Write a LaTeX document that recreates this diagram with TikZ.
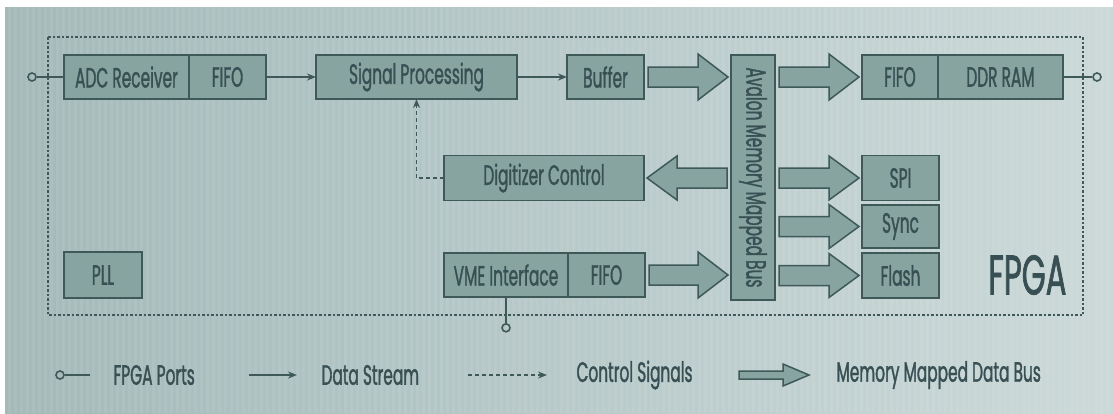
\documentclass[tikz,border=0pt]{standalone}
\usepackage{fontspec}
\setmainfont{Poppins}[FakeStretch=0.55,FakeBold=1.2]
\usepackage{graphicx}
\usetikzlibrary{calc,positioning,arrows.meta}
\definecolor{bgleft}{RGB}{163,186,185}
\definecolor{bgright}{RGB}{204,217,217}
\definecolor{boxfill}{RGB}{136,164,160}
\definecolor{edge}{RGB}{62,89,88}
\definecolor{ink}{RGB}{56,80,84}
\tikzset{
  blk/.style={draw=edge,fill=boxfill,line width=1.8pt,outer sep=0pt,inner sep=0pt,
    minimum height=44pt,text=ink,font=\fontsize{28}{28}\selectfont},
  port/.style={circle,draw=edge,line width=1.6pt,inner sep=0pt,minimum size=8pt},
  data/.style={draw=edge,line width=1.5pt,-{Stealth[length=9pt,width=7pt]}},
  ctrl/.style={data,dash pattern=on 4pt off 3pt},
  border/.style={draw=edge,line width=1.8pt,dash pattern=on 2.5pt off 2pt},
  lgd/.style={anchor=west,text=ink,font=\fontsize{28}{28}\selectfont},
  fatarr/.style n args={3}{draw=edge,fill=boxfill,line width=1.5pt,
    to path={let \p1=(\tikztostart), \p2=(\tikztotarget), \n1={sign(\x2-\x1)} in
      (\x1+\n1*4pt,\y1+#1pt) -- (\x2-\n1*#3pt-\n1*3pt,\y1+#1pt)
      -- (\x2-\n1*#3pt-\n1*3pt,\y1+#2pt) -- (\x2-\n1*3pt,\y1)
      -- (\x2-\n1*#3pt-\n1*3pt,\y1-#2pt) -- (\x2-\n1*#3pt-\n1*3pt,\y1-#1pt)
      -- (\x1+\n1*4pt,\y1-#1pt) -- cycle}}
}

\begin{document}
\begin{tikzpicture}[x=1pt,y=-1pt]
    \useasboundingbox (0,0) rectangle (1113,413);
    \fill[white] (0,0) rectangle (1113,413);
    \shade[left color=bgleft,right color=bgright] (5,7) rectangle (1113,413);
    \foreach \x in {8,14,...,1110}
      \fill[white,opacity=0.07] (\x,7) rectangle (\x+3,413);

    \draw[border] (48,37) rectangle (1083,315);

    % top row
    \node [port] (pin1) at (32,77) {};
    \node [blk,minimum width=125pt,anchor=west] (adc) at (64,77) {ADC Receiver};
    \node [blk,minimum width=77pt,right=0pt of adc] (fifoa) {FIFO};
    \node [blk,minimum width=201pt,anchor=west] (sig) at (316,77) {Signal Processing};
    \node [blk,minimum width=77pt,anchor=west] (buf) at (567,77) {Buffer};
    \node [blk,minimum width=44pt,minimum height=245pt] (bus) at (753,177.5)
      {\rotatebox{-90}{Avalon Memory Mapped Bus}};
    \node [blk,minimum width=76pt,anchor=west] (fifob) at (862,77) {FIFO};
    \node [blk,minimum width=125pt,right=0pt of fifob] (ddr) {DDR RAM};
    \node [port] (pin2) at (1097,77) {};

    % middle and bottom
    \node [blk,minimum width=200pt,minimum height=45pt,anchor=west] (dig) at (444,178) {Digitizer Control};
    \node [blk,minimum width=124pt,anchor=west] (vme) at (444,275) {VME Interface};
    \node [blk,minimum width=77pt,right=0pt of vme] (fifoc) {FIFO};
    \node [port,below=26pt of vme] (pin3) {};
    \node [blk,minimum width=77pt,minimum height=45pt,anchor=west] (spi) at (862,178) {SPI};
    \node [blk,minimum width=77pt,minimum height=43pt,anchor=west] (sync) at (862,226.5) {Sync};
    \node [blk,minimum width=77pt,minimum height=45pt,anchor=west] (flash) at (862,275.5) {Flash};
    \node [blk,minimum width=78pt,minimum height=46pt,anchor=west] (pll) at (64,275) {PLL};
    \node [anchor=east,text=ink,font=\fontsize{56}{56}\selectfont] (fpga) at (1070,275) {FPGA};

    \draw [edge,line width=1.6pt] (pin1) -- (adc);
    \draw [edge,line width=1.6pt] (ddr) -- (pin2);
    \draw [edge,line width=1.6pt] (vme) -- (pin3);
    \draw [data] (fifoa) -- (sig);
    \draw [data] (sig) -- (buf);
    \draw [ctrl] (dig.west) -| (sig.south);

    \draw [fatarr={10}{23}{30}] (buf.east) to (bus.west |- buf.east);
    \draw [fatarr={10}{23}{30}] (bus.east |- fifob.west) to (fifob.west);
    \draw [fatarr={10}{22}{30}] (bus.west |- dig.east) to (dig.east);
    \draw [fatarr={10}{23}{30}] (fifoc.east) to (bus.west |- fifoc.east);
    \draw [fatarr={10}{22}{30}] (bus.east |- spi.west) to (spi.west);
    \draw [fatarr={10}{22}{30}] (bus.east |- sync.west) to (sync.west);
    \draw [fatarr={10}{22}{30}] (bus.east |- flash.west) to (flash.west);

    % legend
    \node [port] (lpin) at (60,375) {};
    \coordinate (lpin2) at (90,375);
    \draw [edge,line width=1.6pt] (lpin) -- (lpin2);
    \node [lgd] (lports) at (110,375) {FPGA Ports};
    \coordinate (ldata1) at (249,375);
    \coordinate (ldata2) at (297,375);
    \draw [data] (ldata1) -- (ldata2);
    \node [lgd] (ldata) at (318,375) {Data Stream};
    \coordinate (lctrl1) at (468,375);
    \coordinate (lctrl2) at (547,375);
    \draw [ctrl] (lctrl1) -- (lctrl2);
    \node [lgd] (lctrl) at (573,375) {Control Signals};
    \coordinate (lbus1) at (735,375);
    \coordinate (lbus2) at (812,375);
    \draw [fatarr={4}{11}{26}] (lbus1) to (lbus2);
    \node [lgd] (lbus) at (833,375) {Memory Mapped Data Bus};
\end{tikzpicture}
\end{document}
